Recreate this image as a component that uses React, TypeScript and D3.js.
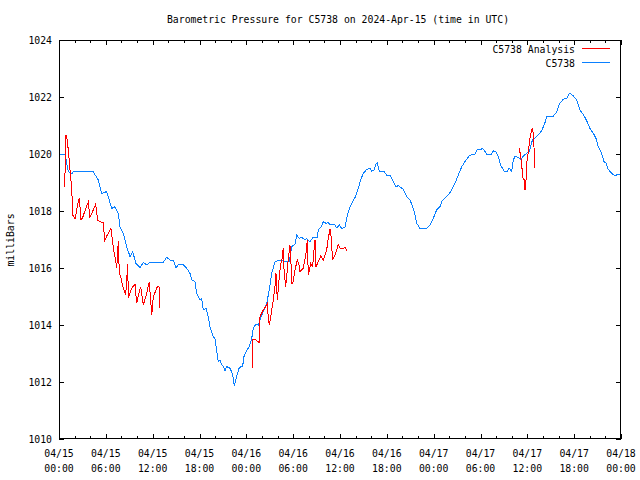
import React from "react";
import * as d3 from "d3";

// Hours since 2024-04-15 00:00 UTC
const stationHours = [0, 0.77, 1.19, 1.63, 1.83, 4.39, 5.03, 5.47, 6.11, 6.75, 7.17, 7.6, 7.81, 8.24, 8.67, 9.1, 9.44, 9.86, 10.38, 10.8, 11.23, 11.66, 13.36, 13.8, 14.22, 14.64, 14.99, 15.28, 15.92, 16.36, 16.78, 17.0, 17.42, 17.64, 18.06, 18.28, 18.49, 18.83, 19.13, 19.34, 19.77, 19.98, 20.2, 20.41, 20.63, 20.84, 21.05, 21.27, 21.48, 21.91, 22.12, 22.33, 22.46, 22.76, 23.06, 23.28, 23.53, 23.7, 24.05, 24.38, 24.69, 24.89, 25.24, 25.53, 25.75, 26.17, 26.61, 26.94, 27.25, 27.67, 28.3, 28.95, 29.5, 29.81, 30.23, 30.45, 30.78, 31.09, 31.51, 31.73, 32.15, 32.58, 33.09, 33.22, 33.65, 33.86, 34.2, 34.5, 34.72, 35.36, 35.58, 35.91, 36.22, 36.64, 36.86, 37.06, 37.5, 37.92, 38.34, 38.65, 38.98, 39.42, 39.84, 40.06, 40.35, 40.61, 40.78, 41.03, 41.63, 41.98, 42.4, 42.83, 43.17, 43.47, 43.9, 44.11, 44.54, 44.97, 45.39, 45.61, 45.82, 46.25, 47.11, 47.53, 47.95, 48.39, 48.81, 49.03, 49.45, 49.87, 50.31, 50.73, 51.15, 51.59, 52.14, 52.65, 53.29, 53.59, 53.93, 54.28, 54.79, 55.43, 55.64, 55.98, 56.28, 56.58, 57.01, 57.43, 57.69, 57.99, 58.2, 58.42, 58.84, 59.15, 59.48, 59.92, 60.25, 60.68, 60.98, 61.4, 61.84, 62.26, 62.48, 63.32, 63.76, 64.09, 64.6, 65.04, 65.37, 65.55, 65.89, 66.32, 66.74, 67.17, 67.6, 68.02, 68.45, 68.79, 69.09, 69.52, 69.82, 70.07, 70.37, 70.8, 71.23, 71.65, 71.87];
const stationPressure = [1020.0, 1020.0, 1019.38, 1019.3, 1019.38, 1019.37, 1019.09, 1018.62, 1018.68, 1018.09, 1018.15, 1017.92, 1017.45, 1017.22, 1016.75, 1016.4, 1016.57, 1016.16, 1016.01, 1016.19, 1016.11, 1016.2, 1016.2, 1016.38, 1016.28, 1016.28, 1016.01, 1016.11, 1016.11, 1015.99, 1015.81, 1015.58, 1015.52, 1015.11, 1014.88, 1014.94, 1014.53, 1014.59, 1014.29, 1013.94, 1013.59, 1013.53, 1013.12, 1012.71, 1012.77, 1012.6, 1012.54, 1012.39, 1012.54, 1012.48, 1012.36, 1012.13, 1011.86, 1012.19, 1012.48, 1012.54, 1012.56, 1012.89, 1013.12, 1013.24, 1013.53, 1013.88, 1014.04, 1014.0, 1014.18, 1014.47, 1014.76, 1015.23, 1015.81, 1016.22, 1016.28, 1016.22, 1016.22, 1016.75, 1016.83, 1017.16, 1017.04, 1017.08, 1016.98, 1017.04, 1016.92, 1017.08, 1017.08, 1017.33, 1017.47, 1017.62, 1017.57, 1017.6, 1017.51, 1017.51, 1017.41, 1017.51, 1017.39, 1017.43, 1017.74, 1017.98, 1018.27, 1018.47, 1018.8, 1019.09, 1019.32, 1019.46, 1019.5, 1019.4, 1019.44, 1019.65, 1019.69, 1019.4, 1019.4, 1019.26, 1019.26, 1019.03, 1018.85, 1018.89, 1018.8, 1018.77, 1018.5, 1018.39, 1018.09, 1017.86, 1017.57, 1017.39, 1017.39, 1017.51, 1017.74, 1018.04, 1018.15, 1018.33, 1018.45, 1018.56, 1018.74, 1018.97, 1019.26, 1019.55, 1019.79, 1019.96, 1019.99, 1020.16, 1020.14, 1020.2, 1020.0, 1020.0, 1020.11, 1020.08, 1019.91, 1019.61, 1019.4, 1019.4, 1019.5, 1019.4, 1019.79, 1019.91, 1019.88, 1019.81, 1019.93, 1020.02, 1020.08, 1020.52, 1020.55, 1020.67, 1020.82, 1021.1, 1021.33, 1021.33, 1021.46, 1021.75, 1021.92, 1021.95, 1022.13, 1022.11, 1022.04, 1021.89, 1021.54, 1021.39, 1021.17, 1020.9, 1020.73, 1020.55, 1020.26, 1020.02, 1019.73, 1019.69, 1019.46, 1019.32, 1019.24, 1019.29, 1019.29];

// Analysis series, three separate runs
const analysisHours1 = [0.68, 0.77, 0.9, 1.06, 1.19, 1.41, 1.63, 1.76, 2.05, 2.47, 2.6, 2.82, 3.04, 3.55, 3.75, 3.97, 4.39, 4.7, 4.96, 5.25, 5.68, 5.85, 6.19, 6.66, 6.88, 7.08, 7.26, 7.39, 7.6, 7.72, 7.94, 8.24, 8.54, 8.67, 8.8, 8.88, 9.31, 9.74, 9.95, 10.29, 10.47, 10.8, 11.23, 11.57, 11.88, 12.08, 12.59, 12.81, 12.94];
const analysisPressure1 = [1018.85, 1019.32, 1020.67, 1020.47, 1020.14, 1019.44, 1018.8, 1017.86, 1017.72, 1018.33, 1018.47, 1017.68, 1017.78, 1018.18, 1018.31, 1017.78, 1018.04, 1018.24, 1017.68, 1017.62, 1017.6, 1016.96, 1017.16, 1017.39, 1016.87, 1016.52, 1016.28, 1015.99, 1016.96, 1015.87, 1015.64, 1015.29, 1015.05, 1015.58, 1016.13, 1014.94, 1015.29, 1015.43, 1014.76, 1015.17, 1015.34, 1014.7, 1015.11, 1015.52, 1014.35, 1014.99, 1015.34, 1015.34, 1014.59];
const analysisHours2 = [24.76, 24.81, 25.24, 25.66, 25.75, 25.84, 26.17, 26.61, 26.68, 26.81, 26.94, 27.12, 27.45, 27.67, 27.8, 27.97, 28.22, 28.4, 28.53, 28.73, 28.82, 29.04, 29.37, 29.59, 29.72, 29.81, 29.94, 30.23, 30.53, 30.75, 30.87, 31.3, 31.64, 31.81, 31.94, 32.24, 32.5, 32.67, 32.8, 32.92, 33.22, 33.53, 33.86, 34.08, 34.29, 34.5, 34.72, 34.84, 35.06, 35.36, 35.58, 35.78, 36.0, 36.42, 36.64, 36.86];
const analysisPressure2 = [1012.48, 1013.5, 1013.47, 1013.38, 1014.29, 1014.35, 1014.53, 1014.7, 1014.74, 1014.29, 1014.0, 1014.29, 1014.88, 1015.34, 1015.81, 1014.88, 1015.69, 1016.16, 1016.22, 1016.69, 1015.99, 1015.34, 1016.28, 1016.81, 1016.16, 1015.46, 1015.46, 1015.93, 1016.28, 1016.11, 1015.87, 1015.99, 1016.52, 1016.98, 1015.75, 1016.16, 1016.05, 1016.63, 1016.98, 1016.05, 1016.22, 1016.42, 1016.28, 1016.46, 1016.63, 1017.04, 1017.36, 1017.16, 1016.28, 1016.46, 1016.63, 1016.83, 1016.69, 1016.69, 1016.73, 1016.6];
const analysisHours3 = [58.97, 59.15, 59.27, 59.48, 59.61, 59.7, 59.83, 59.92, 60.12, 60.34, 60.56, 60.68, 60.76, 60.85, 60.98];
const analysisPressure3 = [1020.2, 1019.91, 1019.61, 1019.09, 1019.11, 1018.74, 1019.09, 1019.67, 1020.08, 1020.55, 1020.84, 1020.9, 1020.67, 1020.26, 1019.5];

const xTickHours = [0, 6, 12, 18, 24, 30, 36, 42, 48, 54, 60, 66, 72];
const xTickDates = ["04/15", "04/15", "04/15", "04/15", "04/16", "04/16", "04/16", "04/16", "04/17", "04/17", "04/17", "04/17", "04/18"];
const xTickTimes = ["00:00", "06:00", "12:00", "18:00", "00:00", "06:00", "12:00", "18:00", "00:00", "06:00", "12:00", "18:00", "00:00"];
const yTicks = [1010, 1012, 1014, 1016, 1018, 1020, 1022, 1024];

const title = "Barometric Pressure for C5738 on 2024-Apr-15 (time in UTC)";
const yLabel = "milliBars";
const legendNames = ["C5738 Analysis", "C5738"];

const W = 640, H = 480;
const L = 59, R = 621, T = 40, B = 439;
const FONT = "'DejaVu Sans Mono', monospace";
const FS = 9.8;
const RED = "#ff0000";
const BLUE = "#0a80ff";

export default function App() {
  const x = d3.scaleLinear().domain([0, 72]).range([L, R]);
  const y = d3.scaleLinear().domain([1010, 1024]).range([B, T]);
  const line = d3.line<[number, number]>().x(d => x(d[0])).y(d => y(d[1]));
  const zip = (a: number[], b: number[]) => a.map((v, i) => [v, b[i]] as [number, number]);

  const minorHours = d3.range(0, 73, 2).filter(h => h % 6 !== 0);

  return (
    <svg width={W} height={H} style={{ position: "fixed", left: 0, top: 0, background: "#fff" }} fontFamily={FONT} fontSize={FS}>
      <rect x={0} y={0} width={W} height={H} fill="#fff" />
      <text x={338} y={19} textAnchor="middle" dominantBaseline="central">{title}</text>
      <text transform={`translate(10,240) rotate(-90)`} textAnchor="middle" dominantBaseline="central">{yLabel}</text>

      <g shapeRendering="crispEdges" stroke="#000" strokeWidth={1}>
        {yTicks.map(t => (
          <g key={"y" + t}>
            <line x1={L} x2={L + 5} y1={Math.round(y(t)) + 0.5} y2={Math.round(y(t)) + 0.5} />
            <line x1={R - 5} x2={R} y1={Math.round(y(t)) + 0.5} y2={Math.round(y(t)) + 0.5} />
          </g>
        ))}
        {xTickHours.map(h => (
          <g key={"x" + h}>
            <line x1={Math.round(x(h)) + 0.5} x2={Math.round(x(h)) + 0.5} y1={B} y2={B - 5} />
            <line x1={Math.round(x(h)) + 0.5} x2={Math.round(x(h)) + 0.5} y1={T} y2={T + 5} />
          </g>
        ))}
        {minorHours.map(h => (
          <g key={"m" + h}>
            <line x1={Math.round(x(h)) + 0.5} x2={Math.round(x(h)) + 0.5} y1={B} y2={B - 3} />
            <line x1={Math.round(x(h)) + 0.5} x2={Math.round(x(h)) + 0.5} y1={T} y2={T + 3} />
          </g>
        ))}
      </g>

      {yTicks.map(t => (
        <text key={"yl" + t} x={52} y={y(t)} textAnchor="end" dominantBaseline="central">{t}</text>
      ))}
      {xTickHours.map((h, i) => (
        <g key={"xl" + h}>
          <text x={x(h)} y={453} textAnchor="middle" dominantBaseline="central">{xTickDates[i]}</text>
          <text x={x(h)} y={468} textAnchor="middle" dominantBaseline="central">{xTickTimes[i]}</text>
        </g>
      ))}

      <g fill="none" strokeWidth={1} shapeRendering="crispEdges">
        <path d={line(zip(stationHours, stationPressure)) || ""} stroke={BLUE} />
        <path d={line(zip(analysisHours1, analysisPressure1)) || ""} stroke={RED} />
        <path d={line(zip(analysisHours2, analysisPressure2)) || ""} stroke={RED} />
        <path d={line(zip(analysisHours3, analysisPressure3)) || ""} stroke={RED} />
      </g>

      <text x={575} y={49} textAnchor="end" dominantBaseline="central">{legendNames[0]}</text>
      <line x1={582} x2={610} y1={48.5} y2={48.5} stroke={RED} shapeRendering="crispEdges" />
      <text x={575} y={63} textAnchor="end" dominantBaseline="central">{legendNames[1]}</text>
      <line x1={582} x2={610} y1={62.5} y2={62.5} stroke={BLUE} shapeRendering="crispEdges" />

      <rect x={L + 0.5} y={T + 0.5} width={R - L - 1} height={B - T - 1} fill="none" stroke="#000" shapeRendering="crispEdges" />
    </svg>
  );
}
